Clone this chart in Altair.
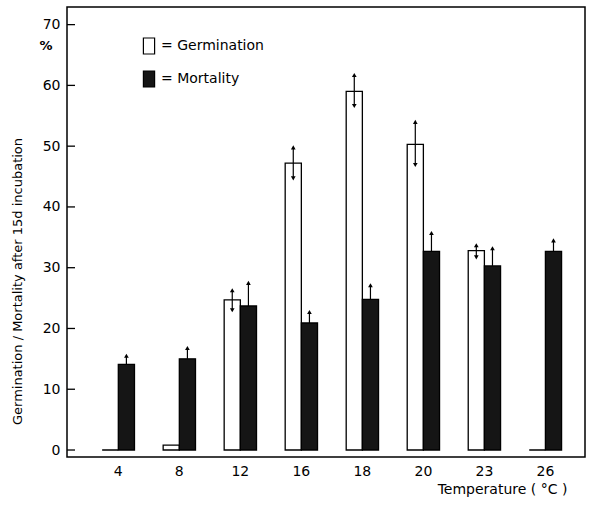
import altair as alt
import pandas as pd

temps = ["4", "8", "12", "16", "18", "20", "23", "26"]
series = ["Germination", "Mortality"]
germ = [0, 0.8, 24.7, 47.2, 59.0, 50.3, 32.8, 0]
germ_lo = [None, None, 23.0, 44.7, 56.6, 46.9, 31.7, None]
germ_hi = [None, None, 26.3, 49.8, 61.7, 54.0, 33.7, None]
mort = [14.1, 15.0, 23.7, 20.9, 24.8, 32.7, 30.3, 32.7]
mort_hi = [15.5, 16.8, 27.5, 22.7, 27.1, 35.7, 33.2, 34.5]
y_ticks = [0, 10, 20, 30, 40, 50, 60, 70]

rows = []
for i, t in enumerate(temps):
    rows.append(dict(temp=t, series="Germination", value=germ[i],
                     lo=germ_lo[i], hi=germ_hi[i], rlo=germ_lo[i]))
    rows.append(dict(temp=t, series="Mortality", value=mort[i],
                     lo=None, hi=mort_hi[i], rlo=mort[i]))
df = pd.DataFrame(rows)
ticks_df = pd.DataFrame({"t": y_ticks})

FONT = "DejaVu Sans"
yscale = alt.Scale(domain=[-1.15, 72.9], nice=False, zero=False)
xscale = alt.Scale(paddingInner=0.47, paddingOuter=0.48, align=0.6)
xoff = alt.XOffset("series:N", sort=series, scale=alt.Scale(paddingInner=0, paddingOuter=0))

x_enc = alt.X("temp:N", sort=temps, scale=xscale,
              axis=alt.Axis(ticks=False, domain=False, labelAngle=0, labelFontSize=14,
                            labelPadding=7, labelColor="black",
                            title="Temperature ( °C )", titleX=435, titleY=25,
                            titleBaseline="top",
                            titleFontSize=14, titleFontWeight="normal", titleColor="black"))

bars = alt.Chart(df).mark_bar(stroke="black", strokeWidth=1.3).encode(
    x=x_enc,
    xOffset=xoff,
    y=alt.Y("value:Q", scale=yscale,
            axis=alt.Axis(values=y_ticks, ticks=False, domain=False, grid=False,
                          labelFontSize=14, labelPadding=7, labelColor="black",
                          title="Germination / Mortality after 15d incubation",
                          titleFontSize=13, titleFontWeight="normal", titleColor="black",
                          titleX=-50, titleY=274, titleAlign="center", titleBaseline="middle")),
    y2=alt.datum(0),
    fill=alt.Fill("series:N", sort=series,
                  scale=alt.Scale(domain=series, range=["white", "#151515"]),
                  legend=alt.Legend(orient="none", legendX=73, legendY=30, title=None,
                                    symbolType="M-0.7,-1H0.7V1H-0.7Z", symbolSize=256,
                                    symbolStrokeColor="black", symbolStrokeWidth=1.2,
                                    labelExpr="'= ' + datum.label", labelFontSize=14,
                                    labelColor="black", rowPadding=11, labelOffset=3)),
)

err_rule = alt.Chart(df).transform_filter("isValid(datum.hi)").mark_rule(
    color="black", strokeWidth=1.2).encode(
    x=alt.X("temp:N", sort=temps, scale=xscale),
    xOffset=xoff,
    y=alt.Y("rlo:Q", scale=yscale),
    y2="hi:Q",
)

arrow_up = alt.Chart(df).transform_filter("isValid(datum.hi)").mark_point(
    shape="triangle-up", filled=True, color="black", size=22, opacity=1).encode(
    x=alt.X("temp:N", sort=temps, scale=xscale),
    xOffset=xoff,
    y=alt.Y("hi:Q", scale=yscale),
)

arrow_dn = alt.Chart(df).transform_filter("isValid(datum.lo)").mark_point(
    shape="triangle-down", filled=True, color="black", size=22, opacity=1).encode(
    x=alt.X("temp:N", sort=temps, scale=xscale),
    xOffset=xoff,
    y=alt.Y("lo:Q", scale=yscale),
)

tick_marks = alt.Chart(ticks_df).mark_rule(color="black", strokeWidth=1.3).encode(
    y=alt.Y("t:Q", scale=yscale),
    x=alt.value(0),
    x2=alt.value(8),
)

pct = alt.Chart(pd.DataFrame({"s": ["%"]})).mark_text(
    font=FONT, fontSize=13, fontWeight="bold", color="black").encode(
    text="s:N", x=alt.value(-21), y=alt.value(39))

chart = alt.layer(bars, err_rule, arrow_up, arrow_dn, tick_marks, pct).properties(
    width=518, height=450,
    autosize=alt.AutoSizeParams(type="none"),
    padding={"left": 67, "top": 7, "right": 4, "bottom": 48},
).configure(font=FONT).configure_view(stroke="black", strokeWidth=1.5)

chart.save("out.html", embed_options={"renderer": "svg", "actions": False})
